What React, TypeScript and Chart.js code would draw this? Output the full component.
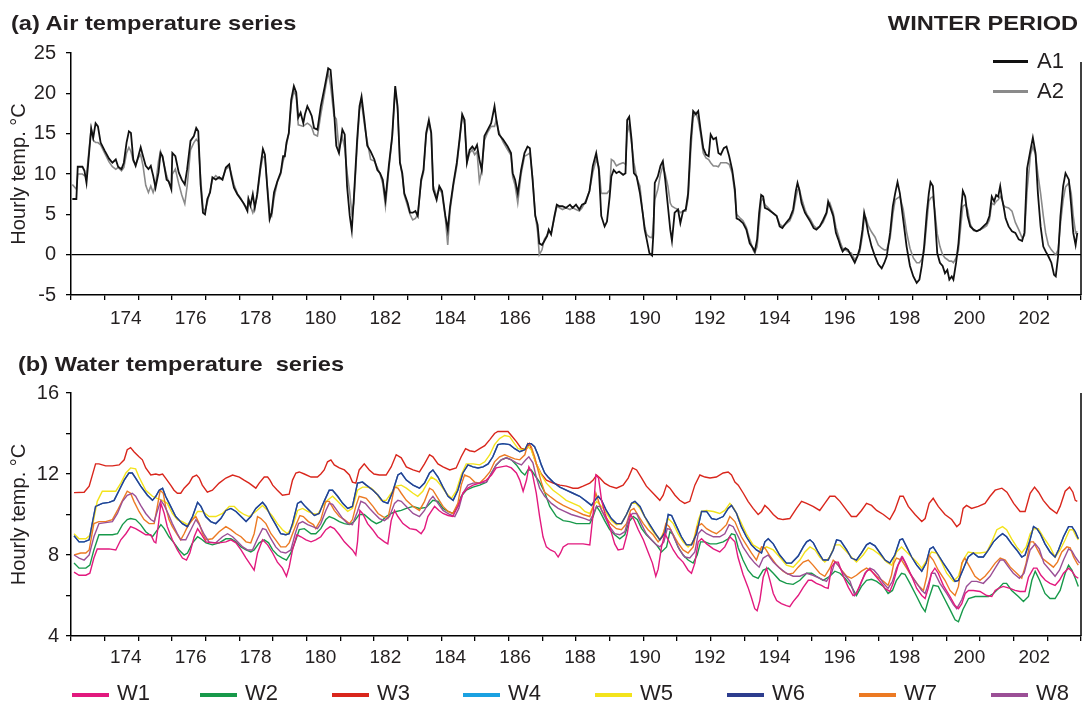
import React, { useEffect, useRef } from "react";
import { Chart, registerables } from "chart.js";

Chart.register(...registerables);

type P = [number, number];

// ---------- axis ticks ----------
// day boundaries (tick marks) and the printed day labels
const DAY_TICKS = [173, 174, 175, 176, 177, 178, 179, 180, 181, 182, 183, 184, 185, 186, 187, 188, 189, 190, 191, 192, 193, 194, 195, 196, 197, 198, 199, 200, 201, 202, 203];
const DAY_LABELS = [174, 176, 178, 180, 182, 184, 186, 188, 190, 192, 194, 196, 198, 200, 202];
// the printed labels in the figure are spaced slightly tighter than the day ticks:
// label axis runs from 172.31 (left edge) to 203.44 (right edge)
const LABEL_AXIS_MIN = 172.31;
const LABEL_AXIS_MAX = 203.44;
const AIR_TICKS = [-5, 0, 5, 10, 15, 20, 25];
const WATER_TICKS = [4, 6, 8, 10, 12, 14, 16];
const WATER_LABELS = [4, 8, 12, 16];

// ---------- (a) air temperature, day of year ----------
const AIR_DAY = [
  173.04, 173.16, 173.2, 173.34, 173.4, 173.46, 173.6, 173.66, 173.73, 173.8,
  173.88, 174.0, 174.13, 174.23, 174.33, 174.4, 174.5, 174.57, 174.65, 174.72,
  174.78, 174.85, 174.92, 175.0, 175.07, 175.14, 175.22, 175.3, 175.37, 175.44,
  175.51, 175.6, 175.66, 175.72, 175.84, 175.9, 175.98, 176.01, 176.1, 176.2,
  176.29, 176.38, 176.45, 176.55, 176.65, 176.72, 176.78, 176.85, 176.92, 176.98,
  177.05, 177.13, 177.2, 177.3, 177.4, 177.5, 177.6, 177.7, 177.76, 177.84,
  177.94, 178.04, 178.14, 178.24, 178.27, 178.33, 178.4, 178.46, 178.53, 178.63,
  178.7, 178.76, 178.83, 178.9, 178.96, 179.03, 179.13, 179.23, 179.3, 179.35,
  179.4, 179.47, 179.54, 179.62, 179.69, 179.75, 179.82, 179.9, 179.95, 180.02,
  180.09, 180.15, 180.22, 180.32, 180.42, 180.54, 180.64, 180.71, 180.81, 180.88,
  180.96, 181.06, 181.13, 181.2, 181.28, 181.34, 181.4, 181.5, 181.57, 181.63,
  181.72, 181.8, 181.9, 182.01, 182.1, 182.18, 182.26, 182.34, 182.44, 182.54,
  182.63, 182.7, 182.77, 182.84, 182.9, 183.0, 183.07, 183.15, 183.23, 183.3,
  183.4, 183.47, 183.55, 183.63, 183.7, 183.76, 183.86, 183.94, 184.02, 184.12,
  184.19, 184.26, 184.36, 184.46, 184.54, 184.62, 184.69, 184.76, 184.84, 184.92,
  184.99, 185.06, 185.13, 185.2, 185.28, 185.38, 185.48, 185.58, 185.63, 185.71,
  185.83, 185.97, 186.07, 186.12, 186.19, 186.27, 186.37, 186.47, 186.56, 186.63,
  186.71, 186.79, 186.86, 186.91, 186.99, 187.06, 187.14, 187.19, 187.26, 187.36,
  187.43, 187.51, 187.6, 187.7, 187.82, 187.9, 188.0, 188.1, 188.18, 188.28,
  188.4, 188.5, 188.6, 188.68, 188.75, 188.85, 188.92, 189.0, 189.05, 189.12,
  189.2, 189.28, 189.4, 189.47, 189.52, 189.58, 189.65, 189.72, 189.8, 189.9,
  189.98, 190.04, 190.1, 190.18, 190.26, 190.3, 190.34, 190.43, 190.51, 190.58,
  190.65, 190.73, 190.8, 190.85, 190.93, 191.03, 191.1, 191.18, 191.26, 191.33,
  191.41, 191.48, 191.56, 191.63, 191.7, 191.78, 191.86, 191.94, 192.0, 192.08,
  192.16, 192.23, 192.3, 192.39, 192.47, 192.55, 192.64, 192.72, 192.77, 192.86,
  192.96, 193.06, 193.16, 193.26, 193.31, 193.38, 193.44, 193.5, 193.56, 193.61,
  193.71, 193.84, 193.96, 194.05, 194.13, 194.23, 194.35, 194.45, 194.53, 194.58,
  194.63, 194.7, 194.8, 194.86, 194.96, 195.06, 195.14, 195.24, 195.34, 195.44,
  195.49, 195.54, 195.64, 195.72, 195.79, 195.86, 195.92, 196.0, 196.08, 196.18,
  196.28, 196.36, 196.43, 196.51, 196.56, 196.61, 196.68, 196.78, 196.88, 196.98,
  197.08, 197.16, 197.23, 197.33, 197.41, 197.48, 197.55, 197.62, 197.72, 197.82,
  197.92, 198.02, 198.12, 198.2, 198.27, 198.34, 198.42, 198.48, 198.53, 198.6,
  198.66, 198.73, 198.81, 198.89, 198.96, 199.03, 199.09, 199.16, 199.21, 199.29,
  199.36, 199.43, 199.49, 199.56, 199.63, 199.71, 199.81, 199.9, 200.0, 200.1,
  200.2, 200.28, 200.35, 200.42, 200.48, 200.54, 200.6, 200.66, 200.7, 200.76,
  200.85, 200.95, 201.05, 201.15, 201.25, 201.32, 201.4, 201.5, 201.57, 201.65,
  201.72, 201.8, 201.88, 201.95, 202.03, 202.12, 202.2, 202.25, 202.32, 202.39,
  202.47, 202.54, 202.64, 202.71, 202.77, 202.84, 202.89,
];

const A1 = [
  6.9, 6.9, 10.9, 10.9, 10.4, 8.9, 15.6, 14.5, 16.3, 15.9,
  13.9, 12.9, 11.9, 11.4, 11.8, 10.9, 10.6, 11.4, 13.9, 15.3,
  15.1, 11.8, 11.0, 12.2, 13.3, 12.2, 11.0, 10.6, 11.0, 9.8,
  8.3, 10.2, 12.6, 12.2, 9.3, 9.1, 8.1, 12.6, 12.2, 10.2,
  9.3, 8.7, 10.6, 14.1, 14.7, 15.7, 15.3, 8.7, 5.2, 5.0,
  6.9, 7.7, 9.6, 9.3, 9.6, 9.3, 10.8, 11.2, 9.8, 8.3,
  7.5, 6.9, 6.3, 5.4, 6.9, 6.1, 7.5, 5.8, 7.5, 11.0,
  13.1, 12.4, 8.3, 4.4, 5.2, 7.7, 9.1, 10.2, 12.2, 12.2,
  13.9, 15.1, 19.2, 20.9, 20.1, 17.0, 17.6, 16.3, 17.4, 18.4,
  17.8, 17.2, 15.7, 15.5, 18.4, 20.9, 23.1, 22.9, 18.0, 13.5,
  12.6, 15.5, 14.9, 8.5, 4.8, 3.0, 6.9, 14.3, 18.4, 19.6,
  16.5, 13.5, 12.8, 11.8, 10.5, 10.1, 9.3, 6.8, 11.0, 14.7,
  20.9, 18.4, 11.4, 10.1, 7.6, 6.4, 5.2, 5.2, 5.4, 4.8,
  9.3, 10.5, 15.1, 16.7, 15.1, 8.1, 6.8, 8.5, 7.9, 4.8,
  3.1, 6.0, 8.9, 11.4, 14.3, 17.4, 16.7, 11.4, 13.0, 13.4,
  13.0, 13.6, 11.8, 10.5, 14.7, 15.5, 16.3, 18.4, 16.9, 14.9,
  14.3, 13.4, 12.6, 10.1, 9.3, 7.6, 10.5, 12.6, 13.4, 13.2,
  9.3, 4.8, 3.7, 1.4, 1.2, 1.7, 2.3, 3.1, 2.5, 4.8,
  6.2, 6.0, 6.0, 5.8, 6.2, 5.8, 6.2, 5.6, 6.2, 6.4,
  7.9, 11.0, 12.6, 10.5, 4.8, 3.5, 4.1, 7.2, 9.7, 10.5,
  10.1, 10.3, 9.9, 10.1, 16.7, 17.1, 14.3, 10.1, 9.7, 7.6,
  5.2, 3.1, 1.9, 0.2, -0.1, 2.7, 8.9, 9.7, 11.0, 11.6,
  9.3, 6.0, 3.1, 1.7, 5.2, 5.6, 3.9, 5.4, 5.6, 7.6,
  14.3, 17.8, 17.4, 17.8, 15.5, 13.2, 12.4, 12.2, 14.9, 14.3,
  14.5, 12.6, 12.4, 13.2, 13.4, 12.2, 10.5, 8.1, 4.5, 4.3,
  3.9, 3.1, 1.4, 0.8, 0.4, 1.9, 5.2, 7.4, 7.2, 5.8,
  5.6, 5.2, 4.8, 3.5, 3.3, 3.9, 4.5, 5.6, 7.9, 8.9,
  8.1, 6.4, 5.2, 4.8, 4.1, 3.3, 3.1, 3.5, 4.3, 5.2,
  6.6, 6.0, 4.8, 2.7, 1.9, 1.0, 0.4, 0.8, 0.6, -0.2,
  -1.0, -0.2, 0.8, 3.1, 5.2, 4.3, 2.7, 1.0, -0.2, -1.2,
  -1.7, -1.0, -0.2, 2.7, 6.0, 7.6, 9.0, 7.6, 4.3, 1.0,
  -1.4, -2.7, -3.5, -3.1, -1.4, 1.0, 5.2, 7.6, 9.0, 8.5,
  4.8, 0.2, -1.0, -1.4, -2.3, -1.9, -3.1, -2.7, -3.1, -1.0,
  1.4, 5.2, 7.9, 7.2, 4.8, 3.5, 3.1, 2.9, 3.1, 3.5,
  3.9, 4.8, 7.2, 6.6, 7.4, 7.2, 8.5, 6.8, 6.0, 4.5,
  3.5, 2.9, 2.7, 1.9, 1.7, 2.7, 10.7, 13.0, 14.5, 12.6,
  7.6, 3.5, 1.0, 0.4, -0.2, -1.0, -2.5, -2.7, -0.2, 4.8,
  8.5, 10.1, 9.3, 6.0, 2.7, 1.2, 2.7,
];

const A2 = [
  8.7, 8.1, 10.0, 10.0, 9.8, 9.8, 15.7, 14.2, 13.9, 13.9,
  13.6, 12.6, 11.5, 10.9, 10.6, 10.8, 10.4, 10.8, 12.6, 13.3,
  12.8, 11.6, 11.2, 12.0, 12.4, 11.0, 8.6, 7.7, 8.5, 7.7,
  8.6, 11.6, 12.8, 12.0, 9.8, 9.0, 8.3, 10.0, 10.6, 8.8,
  7.4, 6.3, 8.5, 13.0, 13.9, 14.3, 14.0, 9.5, 5.8, 5.4,
  6.5, 7.9, 9.3, 9.8, 9.4, 9.5, 10.6, 10.9, 10.1, 8.7,
  7.6, 7.0, 6.2, 5.8, 6.9, 6.0, 5.2, 6.0, 7.2, 10.6,
  12.2, 12.0, 8.6, 5.2, 4.8, 7.0, 9.0, 10.0, 11.6, 12.3,
  13.6, 15.0, 18.6, 20.3, 19.6, 16.1, 16.0, 15.9, 16.1, 16.3,
  16.1, 15.8, 14.9, 14.7, 17.4, 20.2, 22.7, 21.0, 17.2, 16.8,
  13.0, 14.6, 13.2, 10.2, 7.7, 5.2, 6.4, 13.5, 18.0, 18.8,
  16.0, 14.0, 11.8, 11.6, 10.8, 10.0, 8.8, 6.0, 10.5, 14.5,
  20.5, 18.0, 11.6, 9.8, 7.4, 6.0, 5.0, 4.3, 4.5, 5.0,
  9.0, 10.2, 14.8, 16.3, 15.0, 8.5, 7.2, 8.2, 7.6, 4.5,
  1.2, 5.5, 8.6, 11.0, 14.0, 17.2, 16.2, 11.4, 12.6, 13.0,
  12.4, 12.8, 9.1, 10.4, 14.2, 15.2, 15.9, 15.9, 16.7, 15.2,
  14.0, 13.0, 12.3, 9.6, 8.6, 6.4, 10.0, 12.2, 12.4, 12.6,
  9.6, 5.0, 2.8, 0.0, 0.6, 1.9, 2.4, 2.9, 2.6, 4.6,
  6.0, 5.8, 5.6, 5.8, 5.6, 5.8, 5.6, 5.4, 5.8, 6.6,
  7.9, 10.2, 11.8, 10.9, 7.6, 7.6, 7.6, 8.0, 11.8, 11.6,
  11.0, 11.2, 11.4, 11.2, 15.0, 16.1, 13.8, 11.4, 9.6, 8.5,
  5.2, 3.5, 2.5, 2.2, 2.1, 4.0, 6.8, 8.1, 10.0, 11.0,
  10.0, 8.5, 6.4, 6.0, 5.8, 5.6, 5.2, 5.4, 5.4, 7.0,
  13.0, 17.0, 17.6, 16.7, 15.0, 12.6, 12.0, 11.8, 11.4, 11.0,
  11.0, 10.9, 11.4, 11.4, 11.4, 11.2, 10.1, 7.5, 5.0, 4.6,
  4.2, 3.4, 1.9, 0.6, 0.2, 1.0, 4.0, 6.6, 7.0, 6.2,
  5.8, 5.2, 4.8, 3.8, 3.5, 3.8, 4.2, 5.2, 7.0, 8.0,
  8.2, 7.0, 5.6, 5.0, 4.4, 3.6, 3.3, 3.5, 4.0, 5.0,
  6.0, 6.4, 5.2, 3.4, 2.4, 1.4, 0.8, 0.6, 0.4, 0.2,
  -0.6, -0.2, 0.4, 2.4, 4.5, 4.6, 3.6, 2.8, 2.2, 1.2,
  0.8, 0.6, 0.6, 2.0, 5.0, 6.8, 7.0, 7.2, 5.6, 2.8,
  0.8, -0.4, -1.0, -1.0, -0.6, 0.4, 4.0, 6.6, 7.0, 7.2,
  5.4, 2.6, 1.0, 0.0, -0.4, -0.6, -0.8, -0.8, -1.0, -0.4,
  0.6, 3.6, 6.0, 6.2, 5.6, 3.8, 3.0, 2.9, 3.1, 3.3,
  3.6, 4.3, 6.4, 6.2, 6.6, 6.8, 7.2, 6.8, 6.1, 5.9,
  5.8, 5.4, 4.0, 3.1, 2.1, 2.4, 8.0, 12.4, 13.4, 12.4,
  10.0, 7.6, 4.8, 2.7, 1.2, 0.6, 0.2, 0.0, 0.6, 3.8,
  6.8, 8.4, 8.9, 7.6, 4.8, 2.7, 2.9,
];

// ---------- (b) water temperature, [day, °C] ----------
const W3: P[] = [
  [173.09, 11.08], [173.39, 11.1], [173.54, 11.4], [173.73, 12.5], [173.83, 12.5], [174.03, 12.4], [174.23, 12.4], [174.43, 12.45], [174.58, 12.7], [174.67, 13.2],
  [174.77, 13.3], [174.87, 13.1], [175.02, 12.85], [175.12, 12.7], [175.22, 12.3], [175.37, 11.95], [175.52, 12.0], [175.62, 11.95], [175.72, 12.0], [175.81, 11.8],
  [175.96, 11.45], [176.06, 11.2], [176.16, 11.05], [176.26, 11.05], [176.36, 11.3], [176.51, 11.55], [176.61, 11.85], [176.73, 11.95], [176.81, 11.8], [176.9, 11.45],
  [177.05, 11.1], [177.2, 11.2], [177.4, 11.55], [177.6, 11.8], [177.8, 11.95], [178.0, 11.85], [178.14, 11.7], [178.29, 11.55], [178.49, 11.3], [178.59, 11.55],
  [178.74, 11.85], [178.84, 11.85], [178.91, 11.7], [178.99, 11.45], [179.13, 11.2], [179.28, 10.95], [179.48, 11.0], [179.58, 11.7], [179.68, 12.05], [179.78, 12.1],
  [179.93, 12.0], [180.13, 11.85], [180.32, 11.85], [180.42, 12.0], [180.52, 12.2], [180.62, 12.6], [180.72, 12.7], [180.82, 12.45], [180.97, 12.3], [181.12, 12.2],
  [181.27, 11.95], [181.36, 11.6], [181.46, 11.55], [181.56, 12.2], [181.71, 12.5], [181.86, 12.2], [182.0, 12.0], [182.16, 11.95], [182.36, 11.95], [182.51, 12.35],
  [182.66, 12.95], [182.81, 12.8], [182.96, 12.35], [183.16, 12.2], [183.35, 12.1], [183.5, 12.5], [183.65, 12.95], [183.75, 12.85], [183.9, 12.5], [184.05, 12.35],
  [184.25, 12.2], [184.44, 12.3], [184.59, 12.85], [184.72, 13.25], [184.84, 13.15], [184.99, 13.1], [185.14, 13.25], [185.29, 13.4], [185.44, 13.7], [185.58, 14.0],
  [185.68, 14.1], [185.83, 14.1], [185.98, 14.1], [186.08, 13.9], [186.23, 13.6], [186.38, 13.25], [186.53, 13.25], [186.62, 13.5], [186.72, 13.0], [186.82, 12.5],
  [186.97, 12.0], [187.12, 11.7], [187.32, 11.55], [187.52, 11.45], [187.71, 11.4], [187.91, 11.3], [188.06, 11.3], [188.21, 11.4], [188.41, 11.55], [188.51, 11.7],
  [188.61, 11.95], [188.71, 11.8], [188.85, 11.55], [189.0, 11.4], [189.2, 11.3], [189.4, 11.45], [189.55, 11.8], [189.68, 12.3], [189.8, 12.2], [189.95, 11.8],
  [190.09, 11.4], [190.29, 11.05], [190.49, 10.7], [190.59, 10.95], [190.69, 11.45], [190.79, 11.3], [190.94, 10.95], [191.08, 10.7], [191.23, 10.55], [191.38, 10.65],
  [191.53, 11.45], [191.68, 11.95], [191.83, 11.85], [191.98, 11.8], [192.17, 11.85], [192.37, 12.05], [192.52, 12.1], [192.62, 11.95], [192.72, 11.6], [192.82, 11.45],
  [192.97, 11.05], [193.11, 10.65], [193.26, 10.3], [193.41, 10.0], [193.51, 10.15], [193.61, 10.45], [193.71, 10.3], [193.86, 10.0], [194.0, 9.8], [194.15, 9.75],
  [194.35, 9.8], [194.55, 10.3], [194.7, 10.65], [194.85, 10.55], [195.04, 10.4], [195.24, 10.2], [195.39, 10.55], [195.54, 10.9], [195.69, 10.9], [195.84, 10.65],
  [196.04, 10.2], [196.18, 9.9], [196.33, 9.9], [196.48, 10.2], [196.63, 10.55], [196.78, 10.45], [196.93, 10.2], [197.13, 10.0], [197.32, 9.75], [197.47, 10.2],
  [197.62, 10.9], [197.72, 10.9], [197.87, 10.4], [198.07, 10.0], [198.27, 9.65], [198.37, 9.8], [198.49, 10.55], [198.61, 10.8], [198.76, 10.4], [198.96, 10.0],
  [199.16, 9.75], [199.31, 9.4], [199.41, 9.55], [199.5, 10.3], [199.6, 10.45], [199.75, 10.3], [199.95, 10.4], [200.15, 10.55], [200.3, 10.9], [200.45, 11.2],
  [200.65, 11.3], [200.8, 11.1], [201.0, 10.55], [201.19, 10.15], [201.34, 10.15], [201.49, 11.05], [201.62, 11.35], [201.74, 11.1], [201.88, 10.7], [202.08, 10.3],
  [202.28, 10.05], [202.38, 10.4], [202.53, 11.15], [202.66, 11.35], [202.76, 11.1], [202.83, 10.7], [202.89, 10.65],
];

const W6: P[] = [
  [173.09, 8.95], [173.24, 8.65], [173.39, 8.65], [173.54, 8.75], [173.63, 9.55], [173.73, 10.4], [173.93, 10.55], [174.13, 10.6], [174.28, 10.7], [174.43, 11.2],
  [174.58, 11.7], [174.72, 12.05], [174.82, 12.05], [174.92, 11.8], [175.07, 11.4], [175.27, 10.95], [175.42, 10.7], [175.52, 10.9], [175.62, 11.2], [175.72, 11.3],
  [175.81, 10.9], [175.96, 10.4], [176.11, 9.9], [176.31, 9.55], [176.46, 9.4], [176.61, 9.9], [176.76, 10.6], [176.86, 10.4], [177.0, 9.9], [177.15, 9.65],
  [177.3, 9.55], [177.45, 9.8], [177.6, 10.2], [177.75, 10.3], [177.9, 10.15], [178.05, 9.9], [178.2, 9.65], [178.34, 9.9], [178.49, 10.3], [178.69, 10.6],
  [178.79, 10.4], [178.94, 9.9], [179.08, 9.5], [179.23, 9.05], [179.38, 9.0], [179.48, 9.05], [179.58, 9.55], [179.73, 10.55], [179.83, 10.65], [179.93, 10.45],
  [180.08, 10.2], [180.23, 9.95], [180.37, 10.05], [180.52, 10.65], [180.67, 11.2], [180.77, 11.2], [180.92, 10.9], [181.07, 10.55], [181.22, 10.3], [181.36, 10.4],
  [181.51, 11.55], [181.66, 11.6], [181.77, 11.45], [181.97, 11.2], [182.12, 10.95], [182.26, 10.65], [182.41, 10.55], [182.56, 11.15], [182.71, 11.95], [182.81, 12.05],
  [182.96, 11.7], [183.16, 11.45], [183.35, 11.3], [183.5, 11.55], [183.65, 12.05], [183.75, 12.2], [183.9, 11.85], [184.05, 11.35], [184.2, 10.9], [184.35, 10.7],
  [184.49, 11.2], [184.64, 12.05], [184.79, 12.45], [184.94, 12.35], [185.09, 12.3], [185.24, 12.35], [185.39, 12.5], [185.53, 12.85], [185.68, 13.45], [185.83, 13.5],
  [186.03, 13.45], [186.18, 13.25], [186.33, 13.1], [186.48, 13.2], [186.57, 13.5], [186.67, 13.5], [186.77, 13.35], [186.87, 12.95], [186.97, 12.45], [187.07, 12.05],
  [187.17, 11.85], [187.32, 11.6], [187.52, 11.35], [187.71, 11.2], [187.91, 11.05], [188.11, 10.9], [188.31, 10.65], [188.46, 10.45], [188.56, 10.7], [188.66, 10.9],
  [188.76, 10.7], [188.9, 10.2], [189.05, 9.8], [189.2, 9.55], [189.35, 9.55], [189.5, 10.0], [189.65, 10.55], [189.75, 10.65], [189.9, 10.4], [190.04, 9.9],
  [190.19, 9.5], [190.34, 9.1], [190.49, 8.75], [190.64, 9.1], [190.74, 10.0], [190.84, 9.95], [190.99, 9.4], [191.13, 8.9], [191.28, 8.5], [191.43, 8.5],
  [191.58, 9.05], [191.73, 10.15], [191.88, 10.15], [192.03, 9.8], [192.17, 9.75], [192.37, 9.9], [192.52, 10.3], [192.62, 10.45], [192.77, 10.05], [192.91, 9.4],
  [193.06, 8.9], [193.21, 8.5], [193.36, 8.25], [193.51, 8.1], [193.61, 8.65], [193.71, 8.8], [193.86, 8.55], [194.05, 8.0], [194.25, 7.6], [194.4, 7.6],
  [194.6, 7.95], [194.75, 8.4], [194.85, 8.65], [194.95, 8.75], [195.05, 8.6], [195.19, 8.15], [195.34, 7.75], [195.49, 7.75], [195.64, 8.25], [195.74, 8.75],
  [195.86, 8.7], [196.04, 8.25], [196.18, 7.85], [196.33, 7.75], [196.48, 8.1], [196.63, 8.5], [196.73, 8.6], [196.88, 8.45], [197.03, 8.1], [197.18, 7.75],
  [197.32, 7.6], [197.47, 8.0], [197.62, 8.75], [197.7, 8.8], [197.82, 8.4], [197.97, 7.9], [198.12, 7.5], [198.27, 7.2], [198.4, 7.6], [198.51, 8.3],
  [198.61, 8.4], [198.76, 8.0], [198.91, 7.6], [199.11, 7.1], [199.26, 6.7], [199.36, 6.75], [199.5, 7.3], [199.65, 7.9], [199.8, 8.1], [199.95, 7.9],
  [200.1, 7.9], [200.25, 8.25], [200.4, 8.65], [200.55, 8.9], [200.67, 9.05], [200.79, 8.9], [200.94, 8.55], [201.09, 8.25], [201.24, 7.9], [201.34, 8.0],
  [201.47, 8.65], [201.59, 9.4], [201.69, 9.3], [201.79, 9.05], [201.93, 8.55], [202.08, 8.15], [202.23, 7.9], [202.33, 8.25], [202.48, 8.9], [202.63, 9.4],
  [202.73, 9.4], [202.83, 9.15], [202.92, 8.8],
];

// W4 is not distinguishable from W6 anywhere in the figure (it lies under it)
const W4: P[] = W6;

const W5: P[] = [
  [173.09, 9.05], [173.24, 8.8], [173.44, 8.8], [173.58, 9.0], [173.68, 9.8], [173.78, 10.65], [173.93, 11.15], [174.13, 11.15], [174.33, 11.15], [174.48, 11.55],
  [174.63, 12.05], [174.77, 12.3], [174.92, 12.25], [175.02, 11.85], [175.22, 11.2], [175.42, 10.9], [175.56, 10.8], [175.71, 10.7], [175.86, 10.55], [176.01, 10.05],
  [176.16, 9.75], [176.31, 9.65], [176.46, 9.5], [176.61, 9.75], [176.76, 10.15], [176.91, 10.15], [177.1, 9.9], [177.3, 9.9], [177.5, 10.05], [177.7, 10.4],
  [177.85, 10.4], [178.0, 10.15], [178.14, 10.0], [178.29, 9.9], [178.49, 10.15], [178.69, 10.45], [178.84, 10.2], [178.99, 9.9], [179.13, 9.55], [179.28, 9.25],
  [179.43, 9.05], [179.58, 9.4], [179.73, 10.2], [179.88, 10.3], [180.03, 10.15], [180.18, 10.05], [180.32, 10.0], [180.47, 10.4], [180.62, 10.7], [180.77, 10.9],
  [180.92, 10.65], [181.07, 10.4], [181.22, 10.15], [181.36, 10.3], [181.51, 11.2], [181.66, 11.35], [181.77, 11.35], [181.92, 11.3], [182.07, 11.05], [182.21, 10.7],
  [182.36, 10.7], [182.51, 11.05], [182.66, 11.4], [182.81, 11.45], [182.96, 11.3], [183.16, 11.05], [183.3, 10.9], [183.45, 11.15], [183.6, 11.6], [183.7, 11.85],
  [183.85, 11.7], [184.0, 11.4], [184.15, 11.05], [184.3, 10.8], [184.44, 11.15], [184.59, 11.95], [184.74, 12.5], [184.94, 12.5], [185.14, 12.45], [185.29, 12.6],
  [185.44, 12.95], [185.58, 13.45], [185.73, 13.75], [185.88, 13.9], [186.03, 13.85], [186.13, 13.6], [186.28, 13.25], [186.43, 13.2], [186.57, 13.35], [186.67, 13.2],
  [186.82, 12.5], [186.97, 11.95], [187.12, 11.55], [187.32, 11.2], [187.52, 10.95], [187.71, 10.7], [187.91, 10.55], [188.11, 10.4], [188.26, 10.15], [188.41, 10.05],
  [188.51, 10.4], [188.61, 10.65], [188.76, 10.4], [188.91, 10.05], [189.05, 9.7], [189.2, 9.5], [189.35, 9.55], [189.5, 10.0], [189.65, 10.55], [189.78, 10.55],
  [189.9, 10.3], [190.04, 9.9], [190.19, 9.4], [190.34, 9.05], [190.49, 8.75], [190.61, 9.15], [190.74, 9.8], [190.89, 9.55], [191.03, 9.05], [191.18, 8.65],
  [191.33, 8.4], [191.48, 8.65], [191.63, 9.7], [191.73, 10.15], [191.88, 10.2], [192.08, 10.15], [192.27, 10.05], [192.42, 10.2], [192.57, 10.55], [192.69, 10.3],
  [192.86, 9.75], [193.06, 9.05], [193.26, 8.5], [193.41, 8.35], [193.51, 8.25], [193.66, 8.4], [193.86, 8.25], [194.05, 7.9], [194.25, 7.5], [194.45, 7.4],
  [194.65, 7.75], [194.8, 8.15], [194.95, 8.4], [195.1, 8.25], [195.24, 7.9], [195.39, 7.65], [195.54, 7.9], [195.69, 8.5], [195.84, 8.5], [195.99, 8.25],
  [196.18, 7.9], [196.33, 7.65], [196.53, 8.0], [196.68, 8.35], [196.83, 8.25], [197.03, 8.0], [197.23, 7.65], [197.38, 7.5], [197.52, 8.15], [197.67, 8.4],
  [197.82, 8.15], [197.97, 7.9], [198.12, 7.65], [198.27, 7.35], [198.42, 7.75], [198.56, 8.15], [198.71, 8.1], [198.86, 7.65], [199.01, 7.1], [199.21, 6.7],
  [199.36, 6.95], [199.5, 7.75], [199.65, 8.15], [199.8, 8.1], [200.0, 8.1], [200.2, 8.15], [200.35, 8.65], [200.5, 9.25], [200.67, 9.4], [200.79, 9.25],
  [200.94, 8.8], [201.09, 8.4], [201.24, 8.1], [201.37, 8.4], [201.49, 9.05], [201.6, 9.3], [201.73, 9.3], [201.88, 8.9], [202.08, 8.4], [202.23, 7.9],
  [202.38, 8.25], [202.53, 8.75], [202.66, 9.25], [202.76, 9.25], [202.86, 8.9], [202.92, 8.75],
];

const W7: P[] = [
  [173.09, 8.0], [173.29, 8.1], [173.44, 8.1], [173.54, 8.25], [173.68, 9.55], [173.83, 9.65], [174.03, 9.65], [174.23, 9.75], [174.38, 10.2], [174.53, 10.7],
  [174.67, 11.15], [174.77, 11.05], [174.87, 10.65], [175.02, 10.15], [175.17, 9.75], [175.32, 9.55], [175.47, 9.55], [175.57, 10.45], [175.65, 11.2], [175.74, 11.05],
  [175.81, 10.4], [175.91, 9.75], [176.01, 9.4], [176.16, 9.0], [176.26, 8.75], [176.36, 9.05], [176.46, 9.4], [176.61, 9.75], [176.71, 9.9], [176.81, 9.55],
  [176.91, 9.05], [177.01, 8.75], [177.2, 8.8], [177.4, 9.15], [177.6, 9.4], [177.75, 9.25], [177.9, 9.05], [178.05, 8.9], [178.2, 8.65], [178.34, 8.6],
  [178.44, 9.05], [178.54, 9.9], [178.64, 9.8], [178.79, 9.55], [178.94, 9.05], [179.08, 8.75], [179.23, 8.4], [179.38, 8.4], [179.48, 8.6], [179.58, 9.05],
  [179.7, 9.55], [179.8, 9.95], [179.9, 9.9], [180.05, 9.65], [180.2, 9.5], [180.27, 9.3], [180.42, 9.75], [180.57, 10.65], [180.67, 10.65], [180.82, 10.2],
  [180.97, 9.9], [181.12, 9.75], [181.27, 9.55], [181.36, 9.75], [181.46, 10.4], [181.56, 10.9], [181.66, 10.85], [181.77, 10.8], [181.97, 10.4], [182.12, 10.05],
  [182.26, 9.9], [182.41, 9.8], [182.51, 10.55], [182.61, 11.35], [182.71, 11.3], [182.81, 11.05], [182.96, 10.7], [183.16, 10.4], [183.35, 10.2], [183.5, 10.65],
  [183.65, 11.3], [183.75, 11.2], [183.9, 10.8], [184.05, 10.4], [184.2, 10.15], [184.34, 10.05], [184.49, 10.55], [184.59, 11.45], [184.69, 11.95], [184.84, 11.85],
  [184.99, 11.6], [185.14, 11.55], [185.29, 11.8], [185.44, 12.1], [185.58, 12.6], [185.73, 12.85], [185.88, 12.95], [186.03, 12.85], [186.18, 12.75], [186.33, 12.7],
  [186.48, 12.95], [186.57, 13.5], [186.67, 13.35], [186.77, 12.85], [186.87, 12.2], [186.97, 11.6], [187.07, 11.1], [187.22, 10.9], [187.42, 10.65], [187.62, 10.45],
  [187.81, 10.3], [188.01, 10.15], [188.21, 10.0], [188.41, 9.9], [188.51, 10.4], [188.59, 11.05], [188.66, 10.7], [188.76, 10.2], [188.91, 9.8], [189.05, 9.5],
  [189.2, 9.3], [189.35, 9.25], [189.5, 9.55], [189.62, 10.2], [189.72, 10.3], [189.85, 9.95], [190.0, 9.55], [190.14, 9.25], [190.29, 9.0], [190.44, 8.65],
  [190.57, 8.9], [190.67, 9.55], [190.77, 9.4], [190.89, 9.0], [191.03, 8.6], [191.18, 8.25], [191.33, 8.1], [191.48, 8.4], [191.6, 9.4], [191.73, 9.55],
  [191.88, 9.3], [192.03, 9.15], [192.17, 9.05], [192.32, 9.25], [192.47, 9.5], [192.57, 9.9], [192.72, 9.65], [192.91, 8.9], [193.06, 8.5], [193.21, 8.1],
  [193.36, 7.75], [193.51, 8.4], [193.61, 8.35], [193.76, 7.95], [193.96, 7.5], [194.15, 7.2], [194.3, 7.05], [194.45, 7.1], [194.6, 7.4], [194.75, 7.65],
  [194.9, 7.75], [195.04, 7.5], [195.24, 7.1], [195.39, 6.95], [195.54, 7.35], [195.64, 7.75], [195.74, 7.6], [195.89, 7.25], [196.04, 6.95], [196.18, 6.85],
  [196.33, 7.0], [196.48, 7.2], [196.63, 7.35], [196.78, 7.2], [196.93, 6.95], [197.13, 6.7], [197.27, 6.5], [197.37, 7.0], [197.44, 7.6], [197.52, 7.85],
  [197.67, 7.75], [197.82, 7.35], [197.97, 6.95], [198.17, 6.5], [198.32, 6.25], [198.42, 6.95], [198.49, 8.0], [198.61, 7.75], [198.76, 7.25], [198.96, 6.75],
  [199.11, 6.25], [199.26, 6.0], [199.36, 6.45], [199.46, 7.6], [199.55, 7.85], [199.7, 7.4], [199.85, 6.95], [200.0, 6.75], [200.15, 6.95], [200.3, 7.25],
  [200.45, 7.6], [200.6, 7.85], [200.75, 7.75], [200.9, 7.4], [201.09, 7.1], [201.24, 6.85], [201.37, 7.6], [201.49, 8.65], [201.59, 8.65], [201.71, 8.25],
  [201.84, 7.85], [202.03, 7.6], [202.18, 7.4], [202.3, 7.65], [202.43, 8.15], [202.58, 8.4], [202.68, 8.35], [202.78, 7.9], [202.88, 7.6], [202.92, 7.5],
];

const W8: P[] = [
  [173.09, 8.0], [173.24, 7.85], [173.39, 7.75], [173.54, 8.0], [173.68, 8.9], [173.83, 9.55], [174.03, 9.6], [174.23, 9.65], [174.38, 10.05], [174.53, 10.65],
  [174.67, 10.95], [174.82, 11.05], [174.92, 10.9], [175.07, 10.45], [175.22, 10.05], [175.37, 9.75], [175.47, 9.65], [175.57, 10.2], [175.67, 10.7], [175.77, 10.45],
  [175.91, 9.95], [176.01, 9.55], [176.16, 9.05], [176.26, 8.75], [176.41, 8.75], [176.56, 9.25], [176.71, 9.75], [176.81, 9.5], [176.96, 9.0], [177.1, 8.65],
  [177.3, 8.6], [177.5, 8.9], [177.65, 9.05], [177.8, 8.9], [177.95, 8.65], [178.1, 8.4], [178.24, 8.25], [178.39, 8.25], [178.54, 8.8], [178.69, 9.3],
  [178.79, 9.25], [178.94, 8.8], [179.08, 8.4], [179.23, 8.15], [179.38, 8.1], [179.53, 8.25], [179.66, 9.05], [179.76, 9.55], [179.88, 9.65], [180.03, 9.5],
  [180.18, 9.4], [180.32, 9.3], [180.42, 9.55], [180.57, 10.2], [180.67, 10.55], [180.77, 10.5], [180.92, 10.15], [181.07, 9.8], [181.22, 9.55], [181.36, 9.5],
  [181.51, 10.15], [181.61, 10.65], [181.74, 10.55], [181.87, 10.3], [182.01, 10.05], [182.16, 9.8], [182.31, 9.7], [182.46, 9.9], [182.61, 10.55], [182.71, 10.7],
  [182.81, 10.65], [182.96, 10.4], [183.16, 10.05], [183.35, 9.9], [183.5, 10.2], [183.65, 10.7], [183.75, 10.9], [183.9, 10.55], [184.05, 10.2], [184.25, 10.0],
  [184.4, 9.9], [184.52, 10.3], [184.64, 11.05], [184.79, 11.45], [184.94, 11.55], [185.14, 11.55], [185.34, 11.6], [185.49, 12.05], [185.63, 12.45], [185.78, 12.7],
  [185.93, 12.8], [186.08, 12.7], [186.23, 12.55], [186.38, 12.45], [186.51, 12.7], [186.6, 12.85], [186.72, 12.55], [186.82, 11.85], [186.92, 11.3], [187.07, 10.9],
  [187.27, 10.55], [187.47, 10.3], [187.66, 10.15], [187.86, 10.0], [188.06, 9.9], [188.26, 9.8], [188.41, 9.7], [188.51, 10.0], [188.61, 10.4], [188.71, 10.4],
  [188.85, 9.9], [189.0, 9.4], [189.15, 9.05], [189.3, 9.0], [189.45, 9.15], [189.58, 9.9], [189.68, 10.05], [189.8, 10.05], [189.95, 9.5], [190.09, 9.05],
  [190.24, 8.75], [190.39, 8.5], [190.49, 8.4], [190.61, 8.65], [190.71, 9.3], [190.81, 9.25], [190.94, 8.75], [191.08, 8.25], [191.23, 7.9], [191.38, 7.85],
  [191.53, 8.15], [191.63, 9.05], [191.73, 9.25], [191.88, 9.05], [192.08, 8.9], [192.27, 8.9], [192.42, 9.05], [192.55, 9.5], [192.67, 9.4], [192.82, 8.9],
  [192.96, 8.4], [193.16, 7.9], [193.31, 7.6], [193.44, 7.4], [193.56, 7.85], [193.71, 8.0], [193.86, 7.65], [194.05, 7.35], [194.25, 7.1], [194.45, 6.95],
  [194.65, 6.95], [194.85, 7.1], [195.04, 7.0], [195.24, 6.85], [195.44, 6.7], [195.59, 7.1], [195.69, 7.65], [195.79, 7.5], [195.94, 7.1], [196.14, 6.7],
  [196.28, 6.0], [196.43, 6.45], [196.58, 7.1], [196.73, 7.35], [196.85, 7.25], [196.98, 7.0], [197.13, 6.6], [197.27, 6.35], [197.4, 6.7], [197.52, 7.35],
  [197.67, 7.9], [197.77, 7.65], [197.92, 7.1], [198.12, 6.6], [198.27, 6.25], [198.37, 6.1], [198.47, 6.6], [198.56, 7.1], [198.66, 7.1], [198.81, 6.6],
  [199.01, 6.1], [199.21, 5.55], [199.31, 5.35], [199.46, 5.8], [199.6, 6.45], [199.75, 6.7], [199.9, 6.7], [200.1, 6.6], [200.3, 6.95], [200.45, 7.35],
  [200.6, 7.75], [200.7, 7.75], [200.85, 7.4], [200.99, 7.1], [201.17, 6.85], [201.31, 7.1], [201.49, 8.25], [201.64, 8.55], [201.76, 8.3], [201.9, 7.6],
  [202.08, 7.25], [202.23, 6.95], [202.36, 7.25], [202.48, 7.75], [202.63, 8.3], [202.73, 8.2], [202.83, 7.9], [202.96, 7.6],
];

const W2: P[] = [
  [173.09, 7.6], [173.24, 7.35], [173.44, 7.35], [173.56, 7.5], [173.68, 8.25], [173.83, 9.0], [174.03, 9.0], [174.23, 9.0], [174.38, 9.05], [174.53, 9.5],
  [174.67, 9.75], [174.77, 9.8], [174.92, 9.75], [175.07, 9.5], [175.22, 9.15], [175.42, 8.9], [175.57, 9.25], [175.67, 9.5], [175.77, 9.3], [175.91, 8.9],
  [176.06, 8.6], [176.21, 8.25], [176.36, 8.0], [176.46, 8.1], [176.61, 8.6], [176.76, 8.9], [176.86, 8.8], [177.01, 8.6], [177.2, 8.5], [177.4, 8.6],
  [177.6, 8.8], [177.75, 8.8], [177.9, 8.65], [178.05, 8.4], [178.2, 8.25], [178.34, 8.15], [178.44, 8.25], [178.59, 8.6], [178.74, 8.75], [178.87, 8.6],
  [178.99, 8.25], [179.13, 8.0], [179.28, 7.85], [179.4, 7.75], [179.53, 8.1], [179.68, 8.75], [179.78, 9.25], [179.93, 9.3], [180.13, 9.05], [180.27, 9.05],
  [180.42, 9.3], [180.57, 9.75], [180.67, 9.9], [180.82, 9.8], [180.97, 9.65], [181.12, 9.55], [181.27, 9.5], [181.41, 9.65], [181.56, 10.0], [181.71, 10.0],
  [181.92, 9.7], [182.07, 9.55], [182.21, 9.65], [182.36, 9.9], [182.51, 10.05], [182.66, 10.15], [182.81, 10.2], [182.96, 10.3], [183.16, 10.4], [183.35, 10.3],
  [183.55, 10.35], [183.75, 10.7], [183.9, 10.65], [184.05, 10.3], [184.2, 10.15], [184.34, 10.05], [184.49, 10.4], [184.59, 10.9], [184.74, 11.2], [184.94, 11.35],
  [185.14, 11.45], [185.34, 11.6], [185.49, 12.05], [185.63, 12.45], [185.78, 12.7], [185.93, 12.8], [186.08, 12.7], [186.23, 12.45], [186.38, 12.1], [186.48, 11.95],
  [186.57, 12.2], [186.67, 12.2], [186.77, 11.95], [186.92, 11.6], [187.07, 11.1], [187.22, 10.4], [187.42, 9.9], [187.62, 9.7], [187.81, 9.65], [188.01, 9.55],
  [188.21, 9.55], [188.41, 9.55], [188.51, 9.9], [188.61, 10.4], [188.71, 10.15], [188.85, 9.7], [189.0, 9.25], [189.15, 9.0], [189.3, 8.8], [189.45, 9.0],
  [189.58, 9.65], [189.7, 9.9], [189.82, 9.75], [189.95, 9.3], [190.09, 9.0], [190.24, 8.75], [190.39, 8.5], [190.54, 8.15], [190.69, 8.4], [190.79, 9.15],
  [190.89, 9.0], [191.03, 8.4], [191.18, 8.0], [191.33, 7.75], [191.48, 7.6], [191.6, 8.0], [191.7, 8.65], [191.83, 8.65], [191.98, 8.55], [192.17, 8.55],
  [192.37, 8.65], [192.52, 8.8], [192.62, 9.05], [192.72, 9.0], [192.82, 8.35], [192.96, 7.75], [193.11, 7.25], [193.26, 6.95], [193.41, 6.85], [193.56, 7.25],
  [193.71, 7.35], [193.86, 7.1], [194.05, 6.75], [194.25, 6.6], [194.45, 6.55], [194.65, 6.75], [194.85, 7.1], [195.0, 7.1], [195.14, 6.95], [195.34, 6.75],
  [195.54, 6.95], [195.69, 7.2], [195.84, 7.1], [195.99, 6.85], [196.18, 6.45], [196.33, 6.0], [196.48, 6.45], [196.63, 6.75], [196.78, 6.8], [196.93, 6.7],
  [197.13, 6.45], [197.27, 6.1], [197.4, 6.25], [197.52, 6.75], [197.67, 7.1], [197.77, 7.05], [197.92, 6.6], [198.12, 5.95], [198.27, 5.45], [198.37, 5.2],
  [198.47, 5.8], [198.61, 6.5], [198.76, 6.45], [198.91, 5.95], [199.11, 5.3], [199.26, 4.8], [199.36, 4.7], [199.49, 5.3], [199.66, 5.85], [199.86, 5.95],
  [200.05, 5.95], [200.25, 5.95], [200.4, 6.1], [200.55, 6.35], [200.69, 6.6], [200.79, 6.6], [200.94, 6.25], [201.14, 5.95], [201.29, 5.7], [201.44, 5.95],
  [201.54, 6.75], [201.64, 7.2], [201.77, 6.75], [201.93, 6.1], [202.08, 5.85], [202.23, 5.85], [202.38, 6.25], [202.53, 7.1], [202.63, 7.5], [202.73, 7.25],
  [202.83, 6.85], [202.92, 6.45],
];

const W1: P[] = [
  [173.09, 7.15], [173.24, 7.0], [173.44, 7.0], [173.56, 7.1], [173.68, 7.85], [173.78, 8.3], [173.93, 8.3], [174.13, 8.3], [174.33, 8.25], [174.48, 8.75],
  [174.63, 9.05], [174.77, 9.4], [174.92, 9.3], [175.07, 9.15], [175.22, 9.0], [175.37, 9.0], [175.47, 8.65], [175.52, 8.6], [175.6, 9.55], [175.67, 10.55],
  [175.77, 10.05], [175.86, 9.4], [176.01, 8.75], [176.16, 8.25], [176.31, 7.85], [176.43, 7.75], [176.53, 8.1], [176.66, 8.9], [176.76, 9.3], [176.86, 9.05],
  [177.01, 8.65], [177.2, 8.6], [177.4, 8.6], [177.6, 8.65], [177.75, 8.75], [177.9, 8.6], [178.05, 8.25], [178.2, 7.85], [178.34, 7.5], [178.44, 7.25],
  [178.54, 8.1], [178.69, 8.75], [178.84, 8.5], [178.99, 8.1], [179.13, 7.65], [179.28, 7.35], [179.4, 6.95], [179.48, 7.4], [179.58, 8.25], [179.71, 9.0],
  [179.83, 8.9], [179.98, 8.75], [180.13, 8.65], [180.27, 8.75], [180.42, 8.9], [180.57, 9.25], [180.7, 9.4], [180.82, 9.3], [180.97, 9.0], [181.12, 8.65],
  [181.27, 8.4], [181.36, 8.25], [181.46, 8.0], [181.51, 8.65], [181.58, 10.2], [181.66, 10.05], [181.81, 9.55], [181.96, 9.25], [182.11, 8.9], [182.31, 8.65],
  [182.41, 8.55], [182.51, 9.7], [182.61, 10.2], [182.71, 9.9], [182.86, 9.55], [183.06, 9.3], [183.25, 9.25], [183.4, 9.05], [183.5, 9.3], [183.6, 9.9],
  [183.7, 10.15], [183.8, 10.4], [183.93, 10.2], [184.05, 10.05], [184.2, 9.95], [184.34, 9.9], [184.49, 10.4], [184.64, 11.05], [184.79, 11.3], [184.94, 11.45],
  [185.14, 11.55], [185.34, 11.7], [185.49, 11.95], [185.63, 12.3], [185.78, 12.35], [185.93, 12.4], [186.08, 12.3], [186.23, 12.05], [186.33, 11.7], [186.43, 11.15],
  [186.53, 11.7], [186.6, 12.35], [186.7, 12.05], [186.82, 11.05], [186.92, 9.9], [187.02, 8.9], [187.12, 8.4], [187.24, 8.25], [187.37, 8.15], [187.47, 7.9],
  [187.54, 8.1], [187.62, 8.4], [187.76, 8.55], [188.01, 8.55], [188.21, 8.55], [188.41, 8.5], [188.51, 10.05], [188.59, 11.95], [188.67, 11.8], [188.76, 10.7],
  [188.86, 10.05], [189.0, 9.4], [189.15, 8.55], [189.25, 8.25], [189.4, 8.3], [189.52, 9.05], [189.62, 10.0], [189.72, 9.75], [189.85, 9.25], [190.0, 8.75],
  [190.14, 8.15], [190.27, 7.6], [190.37, 6.95], [190.44, 7.3], [190.54, 8.4], [190.64, 9.05], [190.74, 8.75], [190.89, 8.25], [191.03, 7.9], [191.18, 7.65],
  [191.33, 7.25], [191.43, 7.1], [191.53, 7.6], [191.63, 8.65], [191.73, 8.8], [191.88, 8.55], [192.08, 8.3], [192.27, 8.15], [192.42, 8.4], [192.57, 8.9],
  [192.72, 8.65], [192.81, 7.9], [192.96, 7.05], [193.11, 6.4], [193.21, 5.9], [193.31, 5.35], [193.38, 5.25], [193.46, 5.75], [193.56, 6.9], [193.66, 7.35],
  [193.76, 6.75], [193.86, 6.1], [193.96, 5.75], [194.1, 5.6], [194.25, 5.5], [194.35, 5.45], [194.45, 5.7], [194.6, 6.0], [194.75, 6.4], [194.9, 6.75],
  [195.0, 6.75], [195.14, 6.6], [195.29, 6.5], [195.39, 6.4], [195.49, 6.35], [195.59, 7.4], [195.69, 7.65], [195.79, 7.65], [195.94, 6.95], [196.09, 6.4],
  [196.23, 6.0], [196.33, 6.1], [196.48, 6.7], [196.63, 7.2], [196.73, 7.3], [196.88, 7.0], [197.03, 6.7], [197.18, 6.35], [197.32, 6.2], [197.42, 6.6],
  [197.57, 7.5], [197.7, 7.9], [197.82, 7.5], [197.97, 6.95], [198.12, 6.35], [198.27, 6.0], [198.37, 5.85], [198.47, 6.4], [198.56, 7.1], [198.66, 7.35],
  [198.76, 7.1], [198.91, 6.5], [199.11, 5.95], [199.26, 5.5], [199.36, 5.35], [199.46, 5.6], [199.56, 6.1], [199.66, 6.25], [199.8, 6.25], [200.0, 6.2],
  [200.2, 6.0], [200.35, 5.95], [200.45, 6.25], [200.55, 6.35], [200.69, 6.45], [200.89, 6.35], [201.04, 6.25], [201.19, 6.2], [201.34, 6.2], [201.44, 6.9],
  [201.59, 7.35], [201.69, 7.35], [201.81, 7.0], [201.94, 6.75], [202.08, 6.6], [202.23, 6.5], [202.36, 6.75], [202.48, 7.1], [202.63, 7.35], [202.73, 7.2],
  [202.83, 6.95], [202.92, 6.85],
];

// ---------- styling ----------
const FONT = "'Liberation Sans', Arial, Helvetica, sans-serif";
const INK = "#231f20";

const AIR_SERIES = [
  { name: "A1", color: "#111111", width: 1.8 },
  { name: "A2", color: "#8a8a8a", width: 1.6 },
];
const WATER_SERIES = [
  { name: "W1", color: "#e2197e", data: W1, order: 1 },
  { name: "W2", color: "#17994a", data: W2, order: 5 },
  { name: "W3", color: "#d9261c", data: W3, order: 7 },
  { name: "W4", color: "#1aa1e1", data: W4, order: 8 },
  { name: "W5", color: "#f3e31c", data: W5, order: 6 },
  { name: "W6", color: "#2d3d8e", data: W6, order: 2 },
  { name: "W7", color: "#ec7a23", data: W7, order: 4 },
  { name: "W8", color: "#9b4f96", data: W8, order: 3 },
];
const WATER_LEGEND_X = [72, 200, 332, 463, 595, 727, 859, 991];

const toXY = (days: number[], vals: number[]) => days.map((d, i) => ({ x: d, y: vals[i] }));
const pairsXY = (p: P[]) => p.map(([x, y]) => ({ x, y }));

const rightBorder = {
  id: "rightBorder",
  afterDraw(chart: any, _args: any, opts: any) {
    const { ctx, chartArea } = chart;
    ctx.save();
    ctx.strokeStyle = "#000";
    ctx.lineWidth = 1.5;
    ctx.beginPath();
    ctx.moveTo(chartArea.right, chartArea.top + (opts.offsetTop || 0));
    ctx.lineTo(chartArea.right, chartArea.bottom);
    ctx.stroke();
    ctx.restore();
  },
};

function makeOptions(cfg: {
  yMin: number; yMax: number; yTicks: number[]; yLabels: number[];
  yPad: number; xPad: number; xHeight: number; zeroLine: boolean; rightOffset: number;
}) {
  return {
    animation: false,
    responsive: false,
    devicePixelRatio: 1,
    events: [],
    layout: { padding: { top: 53, right: 1, left: 0, bottom: 0 } },
    plugins: {
      legend: { display: false },
      tooltip: { enabled: false },
      rightBorder: { offsetTop: cfg.rightOffset },
    },
    elements: { point: { radius: 0 }, line: { tension: 0 } },
    scales: {
      x: {
        type: "linear",
        position: "bottom",
        weight: 0,
        min: DAY_TICKS[0],
        max: DAY_TICKS[DAY_TICKS.length - 1],
        afterBuildTicks: (s: any) => { s.ticks = DAY_TICKS.map((v) => ({ value: v })); },
        afterFit: (s: any) => { s.height = 6; },
        ticks: { display: false, autoSkip: false },
        grid: { drawOnChartArea: false, drawTicks: true, tickLength: 5, color: "#000", tickColor: "#000", lineWidth: 1.3 },
        border: { display: true, color: "#000", width: 1.5 },
      },
      xLabels: {
        type: "linear",
        position: "bottom",
        weight: 1,
        min: LABEL_AXIS_MIN,
        max: LABEL_AXIS_MAX,
        afterBuildTicks: (s: any) => { s.ticks = DAY_LABELS.map((v) => ({ value: v })); },
        afterFit: (s: any) => { s.height = cfg.xHeight - 6; },
        ticks: {
          autoSkip: false, maxRotation: 0, minRotation: 0, padding: cfg.xPad,
          font: { size: 19, family: FONT }, color: INK,
          callback: (v: any) => String(v),
        },
        grid: { display: false, drawTicks: false, drawOnChartArea: false },
        border: { display: false },
      },
      y: {
        type: "linear",
        min: cfg.yMin,
        max: cfg.yMax,
        afterBuildTicks: (s: any) => { s.ticks = cfg.yTicks.map((v) => ({ value: v })); },
        afterFit: (s: any) => { s.width = 71; },
        ticks: {
          padding: cfg.yPad,
          font: { size: 20, family: FONT }, color: INK,
          callback: (v: any) => (cfg.yLabels.includes(Number(v)) ? String(v) : ""),
        },
        grid: {
          drawOnChartArea: cfg.zeroLine,
          drawTicks: true, tickLength: 5,
          color: (c: any) => (cfg.zeroLine && c.tick && c.tick.value === 0 ? "#000" : "rgba(0,0,0,0)"),
          tickColor: "#000", lineWidth: 1.3,
        },
        border: { display: true, color: "#000", width: 1.5 },
        title: {
          display: true, text: "Hourly temp. °C", color: INK,
          font: { size: 20, family: FONT }, padding: { top: 7, bottom: 0 },
        },
      },
    },
  } as any;
}

function AirChart() {
  const ref = useRef<HTMLCanvasElement | null>(null);
  useEffect(() => {
    if (!ref.current) return;
    const chart = new Chart(ref.current, {
      type: "line",
      data: {
        datasets: [
          { label: "A1", data: toXY(AIR_DAY, A1), borderColor: AIR_SERIES[0].color, borderWidth: AIR_SERIES[0].width, pointRadius: 0, fill: false, order: 1 },
          { label: "A2", data: toXY(AIR_DAY, A2), borderColor: AIR_SERIES[1].color, borderWidth: AIR_SERIES[1].width, pointRadius: 0, fill: false, order: 2 },
        ],
      },
      options: makeOptions({
        yMin: -5, yMax: 25, yTicks: AIR_TICKS, yLabels: AIR_TICKS,
        yPad: 10, xPad: 6, xHeight: 40, zeroLine: true, rightOffset: 9,
      }),
      plugins: [rightBorder],
    } as any);
    return () => chart.destroy();
  }, []);
  return <canvas ref={ref} width={1082} height={335} style={{ position: "absolute", left: 0, top: 0, width: 1082, height: 335 }} />;
}

function WaterChart() {
  const ref = useRef<HTMLCanvasElement | null>(null);
  useEffect(() => {
    if (!ref.current) return;
    const chart = new Chart(ref.current, {
      type: "line",
      data: {
        datasets: WATER_SERIES.map((s) => ({
          label: s.name, data: pairsXY(s.data), borderColor: s.color, borderWidth: 1.4,
          pointRadius: 0, fill: false, order: s.order,
        })),
      },
      options: makeOptions({
        yMin: 4, yMax: 16, yTicks: WATER_TICKS, yLabels: WATER_LABELS,
        yPad: 7, xPad: 4, xHeight: 68, zeroLine: false, rightOffset: 0,
      }),
      plugins: [rightBorder],
    } as any);
    return () => chart.destroy();
  }, []);
  return <canvas ref={ref} width={1082} height={364} style={{ position: "absolute", left: 0, top: 340, width: 1082, height: 364 }} />;
}

const titleStyle: React.CSSProperties = {
  position: "absolute", fontFamily: FONT, fontWeight: "bold", fontSize: 21, lineHeight: "21px",
  color: INK, whiteSpace: "pre", transform: "scaleX(1.125)",
};
const legText: React.CSSProperties = {
  position: "absolute", fontFamily: FONT, fontSize: 22, lineHeight: "22px", color: INK, whiteSpace: "pre",
};

export default function App() {
  return (
    <div style={{ position: "fixed", left: 0, top: 0, width: 1082, height: 704, background: "#fff", overflow: "hidden" }}>
      <AirChart />
      <WaterChart />
      <div style={{ ...titleStyle, left: 11, top: 12, transformOrigin: "left top" }}>(a) Air temperature series</div>
      <div style={{ ...titleStyle, right: 4, top: 12, transformOrigin: "right top" }}>WINTER PERIOD</div>
      <div style={{ ...titleStyle, left: 18, top: 353, transformOrigin: "left top" }}>(b) Water temperature  series</div>
      {AIR_SERIES.map((s, i) => (
        <React.Fragment key={s.name}>
          <div style={{ position: "absolute", left: 993, top: 61 + i * 30 - 1.5, width: 35, height: 3, background: s.color }} />
          <div style={{ ...legText, left: 1037, top: 50 + i * 30 }}>{s.name}</div>
        </React.Fragment>
      ))}
      {WATER_SERIES.map((s, i) => (
        <React.Fragment key={s.name}>
          <div style={{ position: "absolute", left: WATER_LEGEND_X[i], top: 693, width: 37, height: 4, background: s.color }} />
          <div style={{ ...legText, left: WATER_LEGEND_X[i] + 45, top: 682 }}>{s.name}</div>
        </React.Fragment>
      ))}
    </div>
  );
}
